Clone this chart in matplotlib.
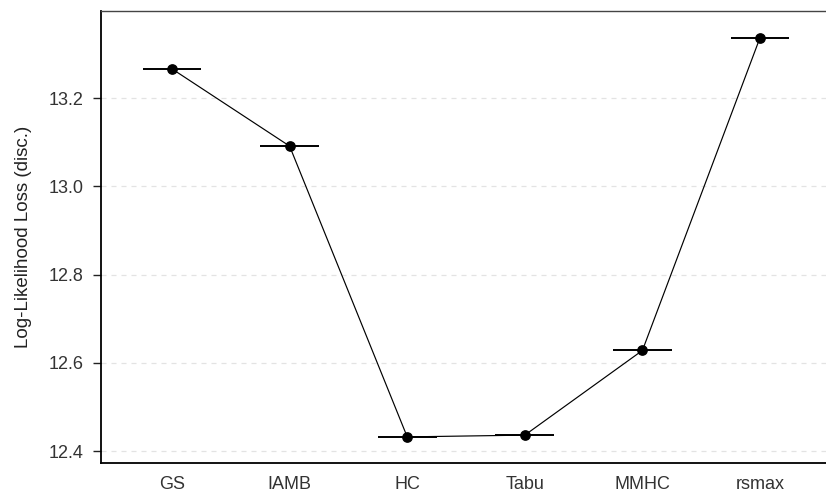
import matplotlib.pyplot as plt

plt.rcParams['font.family'] = ['Liberation Sans', 'DejaVu Sans']

# Mean log-likelihood loss per structure learning algorithm
algorithms = ['GS', 'IAMB', 'HC', 'Tabu', 'MMHC', 'rsmax']
loss = [13.266, 13.091, 12.432, 12.436, 12.628, 13.337]
bar_width = 0.5

fig = plt.figure(figsize=(8.26, 4.91), dpi=100)
ax = fig.add_axes([0.1228, 0.057, 0.8828, 0.9206])

x = list(range(len(algorithms)))

# horizontal dashed grid at major ticks
ax.set_yticks([12.4, 12.6, 12.8, 13.0, 13.2])
ax.yaxis.grid(True, linestyle=(0, (4, 4)), color='#e3e3e3', linewidth=0.9)
ax.set_axisbelow(True)

ax.plot(x, loss, color='black', linewidth=0.85, zorder=3)
ax.hlines(loss, [i - bar_width / 2 for i in x], [i + bar_width / 2 for i in x],
          color='black', linewidth=1.4, zorder=3)
ax.scatter(x, loss, s=45, color='black', zorder=4)

ax.set_xticks(x)
ax.set_xticklabels(algorithms)
ax.set_xlim(-0.6, len(algorithms) - 0.4)
ax.set_ylim(12.3728, 13.3972)

ax.set_ylabel('Log-Likelihood Loss (disc.)', fontsize=13.5, color='#222222')
ax.yaxis.set_label_coords(-0.095, 0.5)
ax.tick_params(axis='y', length=6, width=1, colors='#222222', labelsize=13,
               labelcolor='#333333', pad=7)
ax.tick_params(axis='x', length=0, labelsize=13, labelcolor='#333333', pad=9)

for side in ['left', 'bottom']:
    ax.spines[side].set_color('black')
    ax.spines[side].set_linewidth(1.3)
ax.spines['top'].set_color('#444444')
ax.spines['top'].set_linewidth(1.0)
ax.spines['right'].set_visible(False)

fig.savefig('out.png', dpi=100)
